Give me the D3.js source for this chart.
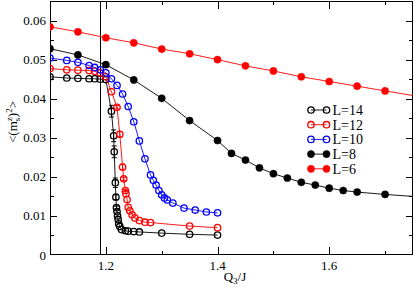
<!DOCTYPE html>
<html><head><meta charset="utf-8">
<script src="https://cdn.jsdelivr.net/npm/d3@7"></script>
<style>
html,body{margin:0;padding:0;background:#fff;}
svg text{font-family:"Liberation Serif","DejaVu Serif",serif;}
</style></head>
<body><svg id="c" width="415" height="287"></svg>
<script>
// ---- data ----
const xTicksMajor = [1.2, 1.4, 1.6];
const xTicksMinor = [1.1, 1.3, 1.5, 1.7];
const yTicksMajor = [0, 0.01, 0.02, 0.03, 0.04, 0.05, 0.06];
const yTickLabels = ["0", "0.01", "0.02", "0.03", "0.04", "0.05", "0.06"];
const yTicksMinor = [0.005, 0.015, 0.025, 0.035, 0.045, 0.055];
const criticalQ = 1.19;

const L14_x = [1.10,1.13,1.15,1.17,1.18,1.19,1.20,1.21,1.214,1.215,1.217,1.218,1.219,1.220,1.221,1.222,1.223,1.225,1.228,1.235,1.24,1.25,1.26,1.30,1.35,1.40];
const L14_y = [0.0456,0.0453,0.0452,0.0451,0.0451,0.0450,0.0449,0.0368,0.0305,0.0264,0.0185,0.0148,0.0121,0.0111,0.0100,0.0091,0.0080,0.0073,0.0065,0.0062,0.0061,0.0060,0.0059,0.0056,0.0053,0.0051];
const L14_e = [0,0,0,0,0,0,0,0.0015,0.0015,0.0015,0.0012,0.0006,0.0004,0,0,0,0,0,0,0,0,0,0,0,0,0];

const L12_x = [1.10,1.13,1.15,1.17,1.18,1.19,1.20,1.21,1.22,1.225,1.23,1.232,1.235,1.236,1.238,1.24,1.243,1.247,1.252,1.26,1.27,1.28,1.35,1.40];
const L12_y = [0.0477,0.0474,0.0473,0.0472,0.0470,0.0466,0.0456,0.0418,0.0378,0.0309,0.0225,0.0195,0.0165,0.0157,0.0142,0.0122,0.0113,0.0103,0.0095,0.0088,0.0084,0.0083,0.0074,0.0070];
const L12_e = [0,0,0,0,0,0,0,0,0.0004,0.0007,0.0007,0.0004,0.0003,0,0,0,0,0,0,0,0,0,0,0];

const L10_x = [1.10,1.13,1.15,1.17,1.18,1.19,1.20,1.21,1.22,1.23,1.24,1.25,1.26,1.27,1.28,1.285,1.29,1.295,1.30,1.305,1.31,1.32,1.34,1.36,1.38,1.40];
const L10_y = [0.0504,0.0498,0.0493,0.0485,0.0480,0.0474,0.0466,0.0451,0.0434,0.0412,0.0380,0.0341,0.0292,0.0246,0.0205,0.0191,0.0179,0.0165,0.0154,0.0146,0.0141,0.0133,0.0120,0.0115,0.0110,0.0108];

const L8_x = [1.10,1.15,1.20,1.25,1.30,1.35,1.40,1.425,1.45,1.475,1.50,1.525,1.55,1.575,1.60,1.625,1.65,1.70,1.80];
const L8_y = [0.0528,0.0512,0.0487,0.0448,0.0401,0.0344,0.0293,0.0260,0.0243,0.0223,0.0208,0.0197,0.0186,0.0179,0.0171,0.0165,0.0161,0.0155,0.0145];

const L6_x = [1.10,1.15,1.20,1.25,1.30,1.35,1.40,1.45,1.50,1.55,1.60,1.65,1.70,1.80];
const L6_y = [0.0584,0.0571,0.0556,0.0543,0.0527,0.0515,0.0500,0.0484,0.0471,0.0456,0.0444,0.0432,0.0420,0.0396];

const seriesNames = ["L=14","L=12","L=10","L=8","L=6"];
const seriesColors = ["#000000","#ff0000","#0000ff","#000000","#ff0000"];
const seriesFilled = [false,false,false,true,true];

// ---- layout ----
const svg = d3.select("#c");
const pL = 50, pR = 413, pT = 1, pB = 255;
const x = d3.scaleLinear().domain([1.1, 1.75]).range([pL, pR]);
const y = d3.scaleLinear().domain([0, 0.065]).range([pB, pT]);

svg.append("defs").append("clipPath").attr("id","clip")
  .append("rect").attr("x",pL).attr("y",pT).attr("width",pR-pL).attr("height",pB-pT);

const mk = (xs, ys, es) => xs.map((v,i)=>({x:v, y:ys[i], e: es ? es[i] : 0}));
const series = [
  mk(L14_x, L14_y, L14_e),
  mk(L12_x, L12_y, L12_e),
  mk(L10_x, L10_y),
  mk(L8_x, L8_y),
  mk(L6_x, L6_y)
];

// frame
svg.append("rect").attr("x",pL+0.5).attr("y",pT+0.5).attr("width",pR-pL-1).attr("height",pB-pT-1)
  .attr("fill","none").attr("stroke","#000").attr("stroke-width",1);

// ticks
const tk = svg.append("g").attr("stroke","#000").attr("stroke-width",1);
function xt(vals, len){
  vals.forEach(v=>{
    const px = Math.round(x(v))+0.5;
    tk.append("line").attr("x1",px).attr("x2",px).attr("y1",pB).attr("y2",pB-len);
    tk.append("line").attr("x1",px).attr("x2",px).attr("y1",pT).attr("y2",pT+len);
  });
}
function yt(vals, len){
  vals.forEach(v=>{
    const py = Math.round(y(v))+0.5;
    tk.append("line").attr("x1",pL).attr("x2",pL+len).attr("y1",py).attr("y2",py);
    tk.append("line").attr("x1",pR).attr("x2",pR-len).attr("y1",py).attr("y2",py);
  });
}
xt(xTicksMajor, 8); xt(xTicksMinor, 4);
yt(yTicksMajor.slice(1), 7); yt(yTicksMinor, 4);

// tick labels
svg.append("g").selectAll("text").data(xTicksMajor).join("text")
  .attr("x",d=>x(d)).attr("y",269.5).attr("text-anchor","middle")
  .attr("font-size",13).text(d=>d.toFixed(1));
svg.append("g").selectAll("text").data(yTicksMajor).join("text")
  .attr("x",pL-4).attr("y",d=>y(d)+4.5).attr("text-anchor","end")
  .attr("font-size",13).text((d,i)=>yTickLabels[i]);

// vertical critical line
svg.append("line").attr("x1",Math.round(x(criticalQ))+0.5).attr("x2",Math.round(x(criticalQ))+0.5)
  .attr("y1",pT).attr("y2",pB).attr("stroke","#000").attr("stroke-width",1);

// series
const plot = svg.append("g").attr("clip-path","url(#clip)");
const line = d3.line().x(d=>x(d.x)).y(d=>y(d.y));
series.forEach((data, si)=>{
  const col = seriesColors[si];
  const g = plot.append("g");
  g.append("path").datum(data).attr("d",line).attr("fill","none")
    .attr("stroke",col).attr("stroke-width",0.9);
  data.filter(d=>d.e>0).forEach(d=>{
    const px = x(d.x), y1 = y(d.y-d.e), y2 = y(d.y+d.e);
    g.append("line").attr("x1",px).attr("x2",px).attr("y1",y1).attr("y2",y2).attr("stroke",col).attr("stroke-width",1);
    g.append("line").attr("x1",px-2.5).attr("x2",px+2.5).attr("y1",y1).attr("y2",y1).attr("stroke",col).attr("stroke-width",1);
    g.append("line").attr("x1",px-2.5).attr("x2",px+2.5).attr("y1",y2).attr("y2",y2).attr("stroke",col).attr("stroke-width",1);
  });
  g.selectAll("circle").data(data).join("circle")
    .attr("cx",d=>x(d.x)).attr("cy",d=>y(d.y))
    .attr("r", seriesFilled[si] ? 3.6 : 3.2)
    .attr("fill", seriesFilled[si] ? col : "none")
    .attr("stroke", col).attr("stroke-width", seriesFilled[si] ? 0.5 : 1.3);
});

// legend
const lg = svg.append("g");
seriesNames.forEach((name, i)=>{
  const ly = 110 + i*14.7;
  const col = seriesColors[i];
  lg.append("line").attr("x1",311).attr("x2",326.5).attr("y1",ly).attr("y2",ly).attr("stroke",col).attr("stroke-width",0.9);
  [311, 326.5].forEach(cx=>{
    lg.append("circle").attr("cx",cx).attr("cy",ly).attr("r",seriesFilled[i]?3.6:3.2)
      .attr("fill",seriesFilled[i]?col:"none").attr("stroke",col).attr("stroke-width",seriesFilled[i]?0.5:1.3);
  });
  lg.append("text").attr("x",332.5).attr("y",ly+5).attr("font-size",14).text(name);
});

// x title
const xtl = svg.append("text").attr("x",235).attr("y",280.5).attr("text-anchor","middle").attr("font-size",13);
xtl.append("tspan").text("Q");
xtl.append("tspan").attr("font-size",9).attr("dy",3).text("3");
xtl.append("tspan").attr("dy",-3).text("/J");

// y title
const ytl = svg.append("text").attr("transform","translate(17,122) rotate(-90)")
  .attr("text-anchor","middle").attr("font-size",13);
ytl.append("tspan").text("<(m");
ytl.append("tspan").attr("font-size",9).attr("dy",3).text("s");
ytl.append("tspan").attr("font-size",9).attr("dx",-3.5).attr("dy",-8).text("z");
ytl.append("tspan").attr("dy",5).text(")");
ytl.append("tspan").attr("font-size",9).attr("dy",-5).text("2");
ytl.append("tspan").attr("dy",5).text(">");
</script></body></html>
